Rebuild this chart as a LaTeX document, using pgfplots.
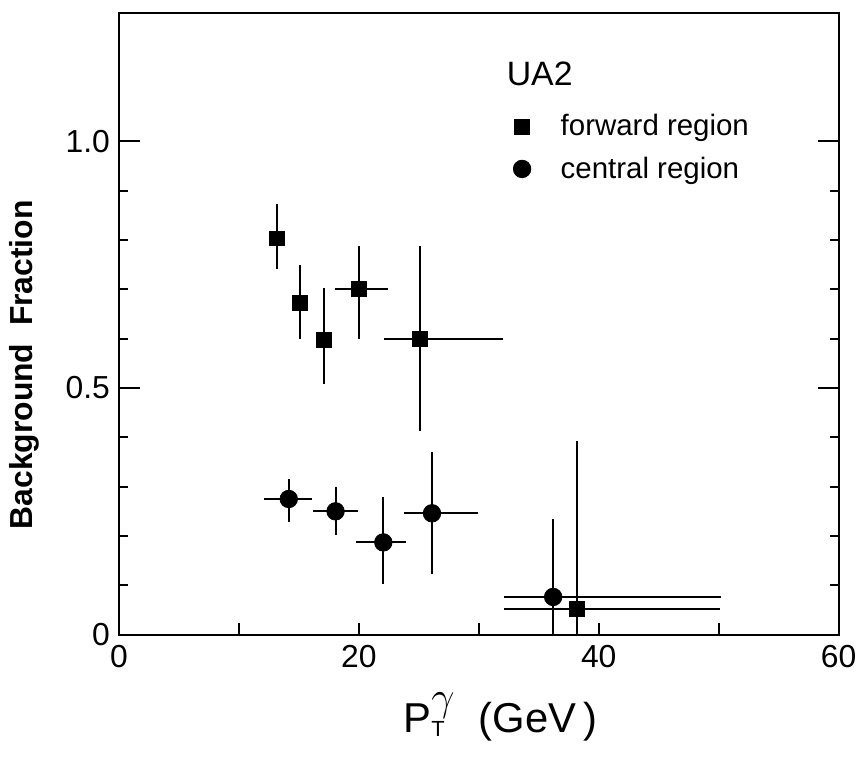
\documentclass[border=0pt]{standalone}
\usepackage{fontspec}
\setmainfont{Liberation Sans}
\usepackage{pgfplots}
\pgfplotsset{compat=1.18}
\begin{document}
\begin{tikzpicture}
\begin{axis}[
  scale only axis,
  width=361.75pt, height=312.5pt,
  xmin=0, xmax=60, ymin=0, ymax=1.26,
  clip=false,
  axis line style={line width=1pt},
  tick style={line width=1pt, black},
  xtick={0,10,20,30,40,50,60},
  xticklabels={0,,20,,40,,60},
  ytick={0,0.5,1.0},
  yticklabels={0,0.5,1.0},
  minor ytick={0.1,0.2,0.3,0.4,0.6,0.7,0.8,0.9},
  extra y ticks={0.5,1.0},
  extra y tick labels={},
  extra y tick style={major tick length=10.5pt},
  xtick pos=bottom,
  ytick pos=both,
  tick align=inside,
  major tick length=6pt,
  minor tick length=4.5pt,
  /pgf/number format/assume math mode=true,
  tick label style={font=\fontsize{16}{16}\selectfont},
  xticklabel style={yshift=-2pt},
  yticklabel style={xshift=-1pt},
  xlabel={P$^{\textstyle\gamma}_{\hbox{\fontsize{11}{11}\selectfont T}}$\ \ (GeV\,)},
  xlabel style={font=\fontsize{21}{21}\selectfont, at={(axis description cs:0.53,-0.158)}, anchor=base},
  ylabel={\textbf{Background\ \ Fraction}},
  ylabel style={font=\fontsize{16}{16}\selectfont, at={(axis description cs:-0.12,0.434)}, anchor=base},
  legend style={draw=none, fill=none, at={(axis cs:32.35,1.071)}, anchor=north west,
    font=\fontsize{14.8}{14.8}\selectfont, row sep=5pt,
    /tikz/every odd column/.append style={column sep=13pt}},
  legend cell align=left,
]
\draw[draw=none] (rel axis cs:-0.1652,-0.1968) rectangle (rel axis cs:1.0276,1.0208);
\addplot[only marks, mark=square*, mark size=3.75pt, black,
  error bars/.cd, x dir=both, x explicit, y dir=both, y explicit,
  error mark=none, error bar style={line width=1pt, black}]
coordinates {
(13.2,0.803) += (0,0.069) -= (0,0.062)
(15.1,0.673) += (0,0.076) -= (0,0.073)
(17.1,0.598) += (0,0.104) -= (0,0.090)
(20.0,0.701) += (2.4,0.087) -= (2.0,0.102)
(25.06,0.599) += (7.0,0.188) -= (3.0,0.186)
(38.2,0.052) += (11.9,0.341) -= (6.1,0.052)
};
\addlegendentry{forward region}
\addplot[only marks, mark=*, mark size=4.4pt, black,
  error bars/.cd, x dir=both, x explicit, y dir=both, y explicit,
  error mark=none, error bar style={line width=1pt, black}]
coordinates {
(14.16,0.275) += (1.94,0.041) -= (2.1,0.047)
(18.06,0.250) += (1.84,0.050) -= (1.86,0.047)
(22.04,0.187) += (1.86,0.093) -= (2.29,0.084)
(26.1,0.246) += (3.85,0.124) -= (2.3,0.124)
(36.2,0.0765) += (14.0,0.158) -= (4.1,0.0765)
};
\addlegendentry{central region}
\node[anchor=base west, font=\fontsize{17}{17}\selectfont, inner sep=0pt] at (axis cs:32.3,1.112) {UA2};
\end{axis}
\end{tikzpicture}
\end{document}
